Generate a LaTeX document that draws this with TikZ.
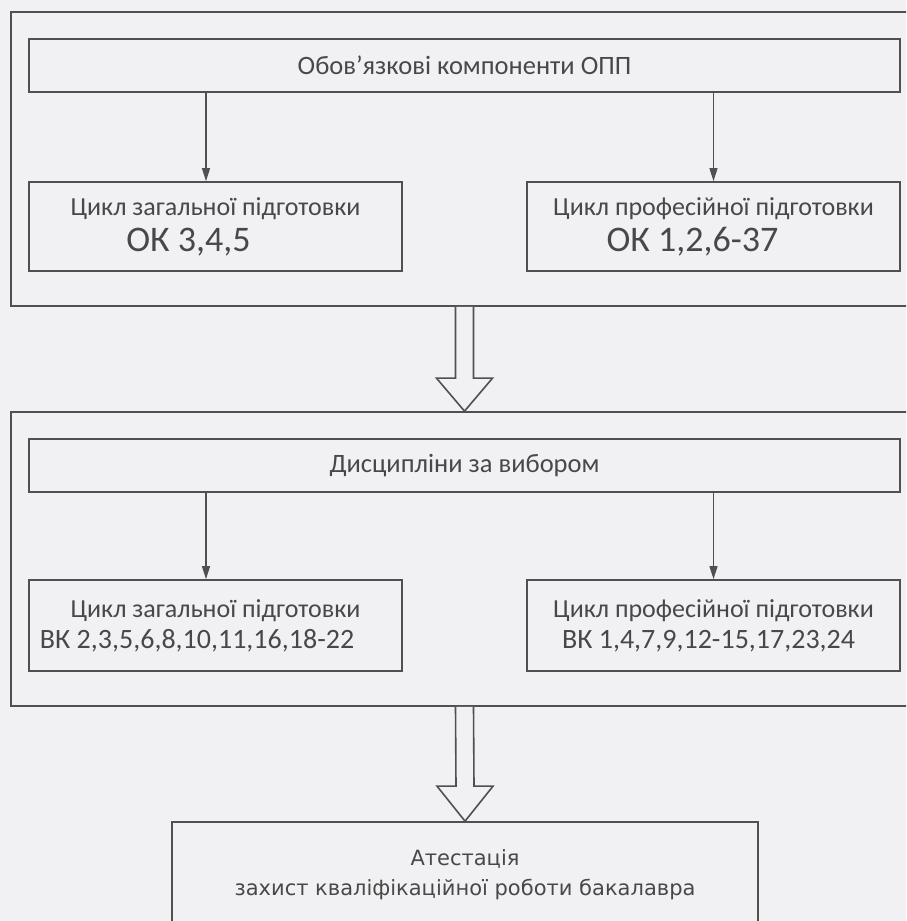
\documentclass[tikz,border=0pt]{standalone}
\usepackage{fontspec}
\setmainfont{Carlito}
\newfontfamily\dejavu{DejaVu Sans}
\usetikzlibrary{arrows.meta,calc}
\definecolor{bg}{HTML}{F1F1F3}
\definecolor{ln}{HTML}{505050}
\definecolor{txt}{HTML}{484848}

\begin{document}
\begin{tikzpicture}[x=1pt,y=-1pt,
    box/.style={rectangle, draw=ln, line width=1.7pt, text=txt, align=center, inner sep=0pt},
    frame/.style={rectangle, draw=ln, line width=1.7pt, inner sep=0pt, minimum width=907pt, minimum height=294pt},
    head/.style={box, minimum width=871pt, minimum height=53pt, font=\fontsize{26.5}{30}\selectfont},
    cycA/.style={box, minimum width=373pt, minimum height=89pt, font=\fontsize{26}{36}\selectfont},
    cycB/.style={box, minimum width=373pt, minimum height=91pt, font=\fontsize{26}{31}\selectfont},
    arr/.style={draw=ln, line width=1.2pt, -{Triangle[length=13pt,width=8pt]}},
    hollow/.style={draw=ln, line width=1.6pt, fill=bg, line join=miter}]
  \fill[bg] (0,0) rectangle (906,921);
  \useasboundingbox (0,0) rectangle (906,921);
  \clip (0,0) rectangle (906,921);

  % compulsory components
  \node[frame] (frameA) at (464.5,159) {};
  \node[head] (compulsory) at (464.5,65.5) {Обов'язкові компоненти ОПП};
  \node[cycA] (genA) at (215.5,226.5) {Цикл загальної підготовки\\
    \hspace*{-54pt}{\fontsize{36}{36}\selectfont ОК 3,4,5}};
  \node[cycA] (profA) at (713.5,226.5) {Цикл професійної підготовки\\
    \hspace*{-42pt}{\fontsize{36}{36}\selectfont ОК 1,2,6-37}};
  \draw[arr] ([xshift=-9.5pt]compulsory.south -| genA.north) -- ([xshift=-9.5pt]genA.north);
  \draw[arr] (compulsory.south -| profA.north) -- (profA.north);

  % elective disciplines
  \node[frame] (frameB) at (464.5,559) {};
  \node[head] (elective) at (464.5,465.5) {Дисципліни за вибором};
  \node[cycB] (genB) at (215.5,625.5) {Цикл загальної підготовки\\
    \hspace*{-37pt}{\fontsize{28}{31}\selectfont ВК 2,3,5,6,8,10,11,16,18-22}};
  \node[cycB] (profB) at (713.5,625.5) {Цикл професійної підготовки\\
    \hspace*{-10pt}{\fontsize{28}{31}\selectfont ВК 1,4,7,9,12-15,17,23,24}};
  \draw[arr] ([xshift=-9.5pt]elective.south -| genB.north) -- ([xshift=-9.5pt]genB.north);
  \draw[arr] (elective.south -| profB.north) -- (profB.north);

  % attestation
  \node[box, minimum width=586pt, minimum height=106pt, font=\dejavu\fontsize{21}{30}\selectfont] (attest) at (465,875)
    {Атестація\\захист кваліфікаційної роботи бакалавра};

  % hollow arrows
  \draw[hollow] ($(frameA.south)+(-9,0)$) -- ($(frameB.north)+(-9,-33)$) -- ($(frameB.north)+(-28,-33)$)
    -- (frameB.north) -- ($(frameB.north)+(28,-33)$) -- ($(frameB.north)+(9,-33)$) -- ($(frameA.south)+(9,0)$);
  \draw[hollow] ($(frameB.south)+(-9,0)$) -- ($(attest.north)+(-9,-35)$) -- ($(attest.north)+(-28,-35)$)
    -- (attest.north) -- ($(attest.north)+(28,-35)$) -- ($(attest.north)+(9,-35)$) -- ($(frameB.south)+(9,0)$);
\end{tikzpicture}
\end{document}
